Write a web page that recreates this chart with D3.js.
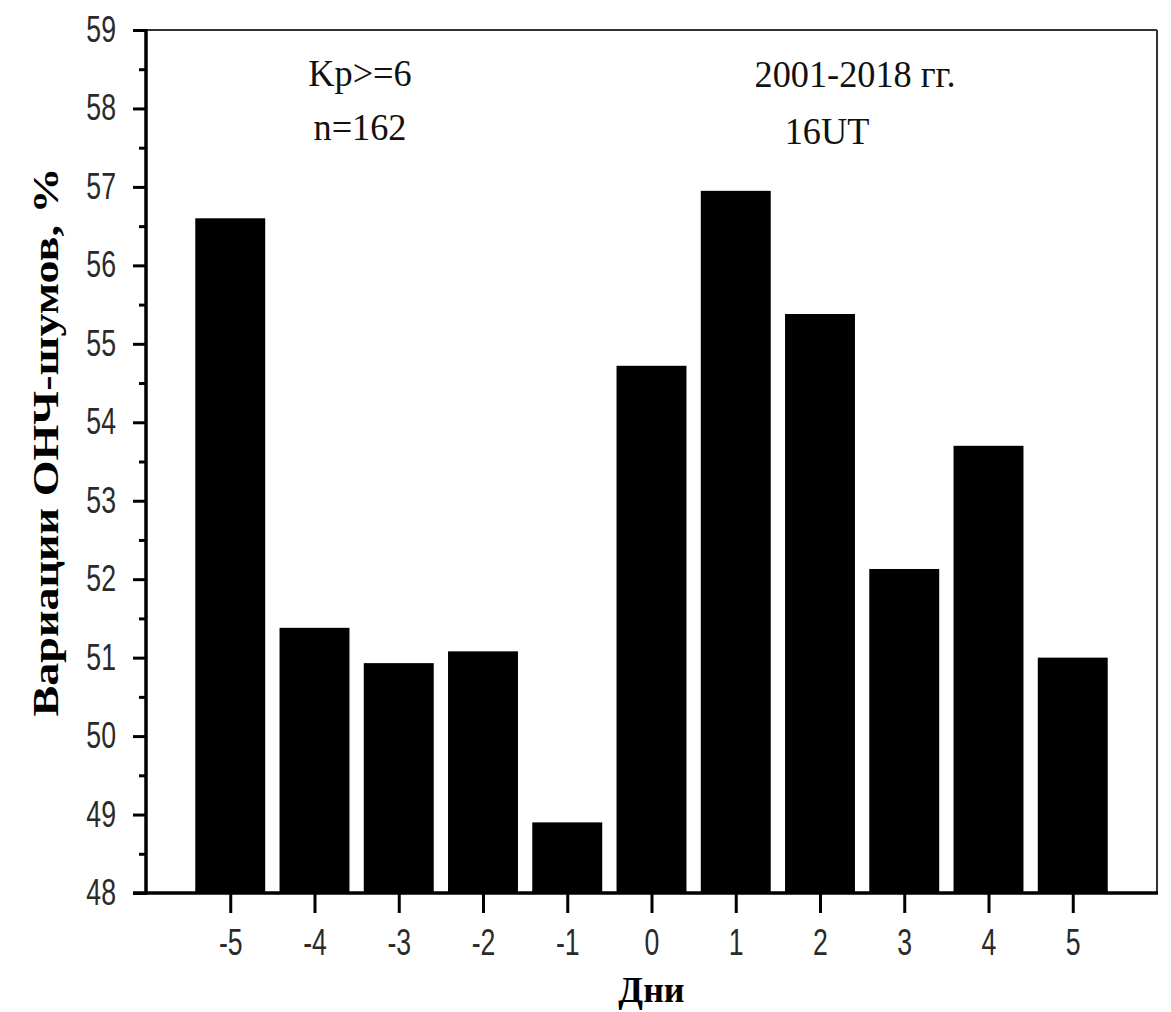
<!DOCTYPE html>
<html>
<head>
<meta charset="utf-8">
<script src="https://cdn.jsdelivr.net/npm/d3@7.9.0/dist/d3.min.js"></script>
<style>
  body { margin: 0; background: #fff; }
  .tick text { font-family: 'Liberation Sans Narrow', 'Arial Narrow', 'Liberation Sans', Arial, sans-serif; fill: #2a2a2a; }
</style>
</head>
<body>
<svg id="chart" width="1171" height="1012"></svg>
<script>
const days = [-5, -4, -3, -2, -1, 0, 1, 2, 3, 4, 5];
const variation = [56.6, 51.38, 50.93, 51.08, 48.9, 54.72, 56.95, 55.38, 52.13, 53.7, 51.0];
const yTicks = [48, 49, 50, 51, 52, 53, 54, 55, 56, 57, 58, 59];
const yMinor = [48.5, 49.5, 50.5, 51.5, 52.5, 53.5, 54.5, 55.5, 56.5, 57.5, 58.5];
const notesLeft = ['Kp>=6', 'n=162'];
const notesRight = ['2001-2018 гг.', '16UT'];
const xTitle = 'Дни';
const yTitle = 'Вариации ОНЧ-шумов, %';

const plotL = 146, plotR = 1157, plotT = 30, plotB = 893;
const svg = d3.select('#chart');

const x = d3.scaleLinear().domain([-6, 6]).range([plotL, plotR]);
const y = d3.scaleLinear().domain([48, 59]).range([plotB, plotT]);
const barW = x(0.83) - x(0);

// stretch or squeeze text along its baseline
function stretch(sel, k) {
  sel.each(function () {
    const w = this.getComputedTextLength();
    d3.select(this).attr('textLength', w * k).attr('lengthAdjust', 'spacingAndGlyphs');
  });
}

svg.append('g')
  .selectAll('rect')
  .data(days)
  .join('rect')
  .attr('x', (d) => x(d) - barW / 2)
  .attr('width', barW)
  .attr('y', (d, i) => y(variation[i]))
  .attr('height', (d, i) => y(48) - y(variation[i]))
  .attr('fill', '#000');

// frame
svg.append('line').attr('x1', plotL).attr('x2', plotR).attr('y1', plotT).attr('y2', plotT)
  .attr('stroke', '#333').attr('stroke-width', 2);
svg.append('line').attr('x1', plotR).attr('x2', plotR).attr('y1', plotT).attr('y2', plotB)
  .attr('stroke', '#333').attr('stroke-width', 2);

// y axis
const yAxis = svg.append('g')
  .attr('transform', `translate(${plotL},0)`)
  .call(d3.axisLeft(y).tickValues(yTicks).tickSize(13).tickPadding(17).tickFormat((d) => String(d)));
yAxis.selectAll('.tick line').attr('stroke', '#000').attr('stroke-width', 3);
yAxis.selectAll('.tick text').attr('font-size', 36);
stretch(yAxis.selectAll('.tick text'), 0.74);
yAxis.select('.domain').remove();

const yAxisMinor = svg.append('g')
  .attr('transform', `translate(${plotL},0)`)
  .call(d3.axisLeft(y).tickValues(yMinor).tickSize(7).tickFormat(''));
yAxisMinor.selectAll('.tick line').attr('stroke', '#000').attr('stroke-width', 3);
yAxisMinor.select('.domain').remove();

// x axis
const xAxis = svg.append('g')
  .attr('transform', `translate(0,${plotB})`)
  .call(d3.axisBottom(x).tickValues(days).tickSize(20).tickPadding(16).tickFormat((d) => String(d)));
xAxis.selectAll('.tick line').attr('stroke', '#000').attr('stroke-width', 3);
xAxis.selectAll('.tick text').attr('font-size', 36);
stretch(xAxis.selectAll('.tick text'), 0.74);
xAxis.select('.domain').remove();

svg.append('line').attr('x1', plotL).attr('x2', plotL).attr('y1', plotT - 1).attr('y2', plotB + 1.5)
  .attr('stroke', '#000').attr('stroke-width', 3.5);
svg.append('line').attr('x1', plotL - 13).attr('x2', plotR + 1).attr('y1', plotB).attr('y2', plotB)
  .attr('stroke', '#000').attr('stroke-width', 3.5);

// titles
const xt = svg.append('text')
  .attr('x', x(0)).attr('y', 1002)
  .attr('text-anchor', 'middle')
  .attr('font-family', "'Liberation Serif', 'Times New Roman', serif")
  .attr('font-weight', 'bold').attr('font-size', 36)
  .text(xTitle);
stretch(xt, 1.0);

const yt = svg.append('text')
  .attr('transform', 'translate(58,442) rotate(-90)')
  .attr('text-anchor', 'middle')
  .attr('font-family', "'Liberation Serif', 'Times New Roman', serif")
  .attr('font-weight', 'bold').attr('font-size', 36)
  .text(yTitle);
stretch(yt, 1.28);

// annotations
const notes = svg.append('g')
  .attr('font-family', "'Liberation Serif', 'Times New Roman', serif")
  .attr('font-size', 37).attr('fill', '#111')
  .attr('text-anchor', 'middle');

notes.selectAll('text.l')
  .data(notesLeft)
  .join('text')
  .attr('class', 'l')
  .attr('x', 360)
  .attr('y', (d, i) => 86 + i * 54)
  .text((d) => d);

notes.selectAll('text.r')
  .data(notesRight)
  .join('text')
  .attr('class', 'r')
  .attr('x', (d, i) => (i === 0 ? 855 : 827))
  .attr('y', (d, i) => 87 + i * 57)
  .text((d) => d);

stretch(notes.selectAll('text'), 0.98);
</script>
</body>
</html>
